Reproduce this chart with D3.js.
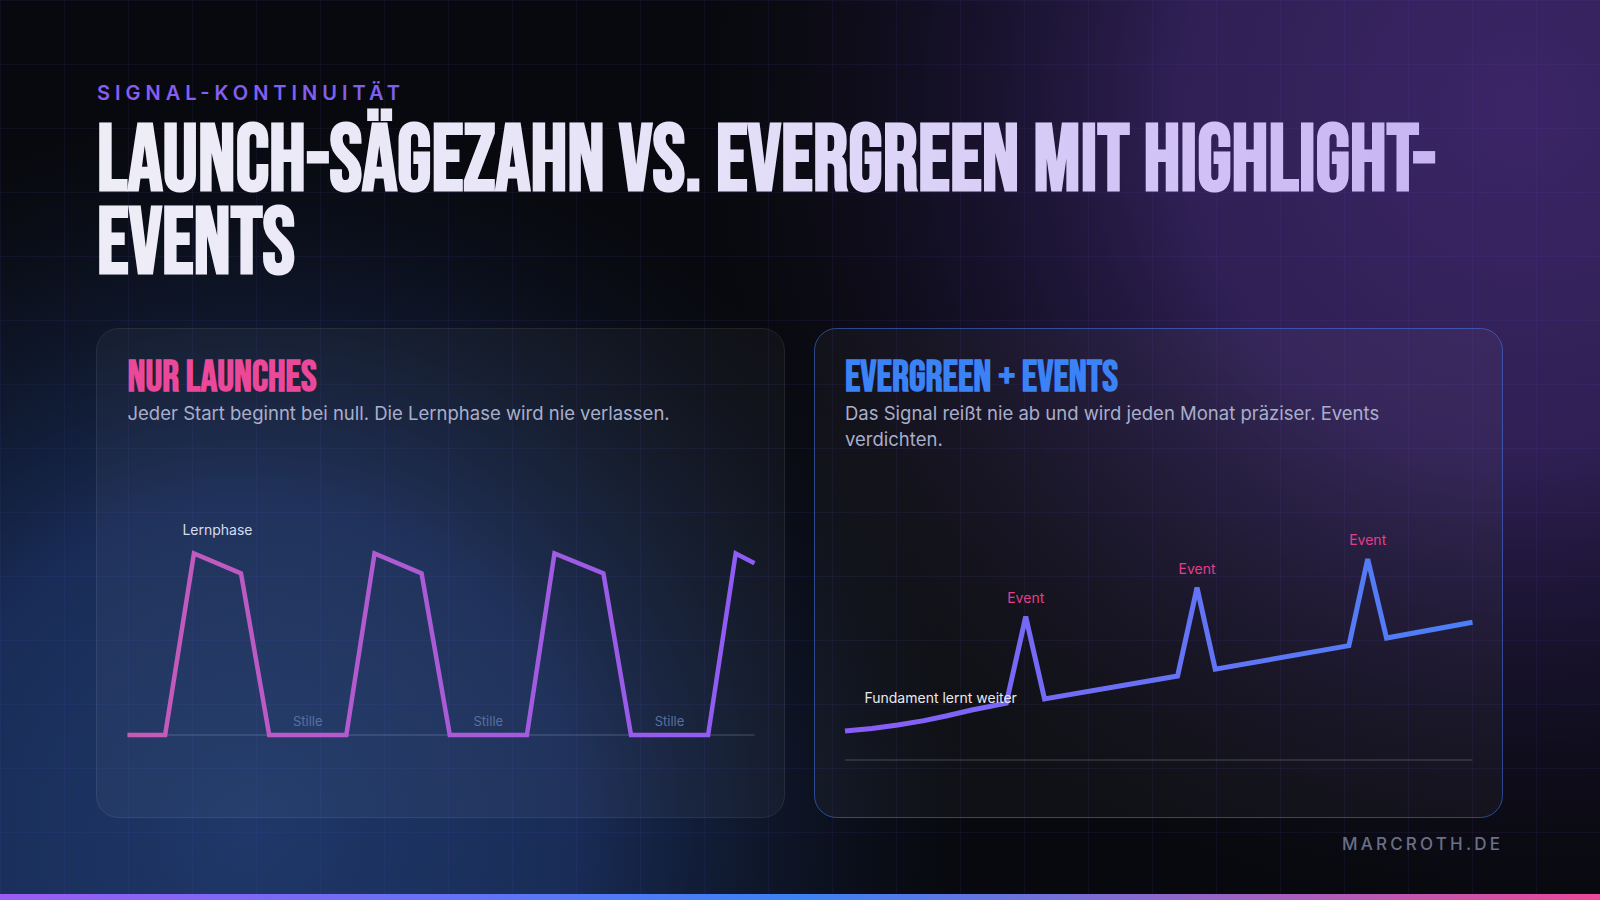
<!DOCTYPE html>
<html><head><meta charset="utf-8">
<script src="https://cdn.jsdelivr.net/npm/d3@7"></script>
<style>html,body{margin:0;padding:0;background:#08090e;overflow:hidden}svg{display:block}</style>
</head><body><svg id="c" width="1600" height="900"></svg>
<script>
// ---------- data ----------
const kicker = "SIGNAL-KONTINUITÄT";
const titleLines = ["LAUNCH-SÄGEZAHN VS. EVERGREEN MIT HIGHLIGHT-", "EVENTS"];
const leftTitle = "NUR LAUNCHES";
const leftSub = "Jeder Start beginnt bei null. Die Lernphase wird nie verlassen.";
const rightTitle = "EVERGREEN + EVENTS";
const rightSub = "Das Signal reißt nie ab und wird jeden Monat präziser. Events verdichten.";
const footer = "MARCROTH.DE";

// Launch sawtooth (t = position 0..100, signal 0..100)
const launchT      = [0, 6.0, 10.6, 18.1, 22.6, 34.9, 39.4, 46.9, 51.4, 63.7, 68.1, 75.9, 80.3, 92.6, 97.0, 100];
const launchSignal = [0, 0,   100,  89,   0,    0,    100,  89,   0,    0,    100,  89,   0,    0,    100,  94.6];
const learnLabel = {t: 14.35, v: 110, text: "Lernphase"};
const stilleT = [28.75, 57.55, 86.45];
const stilleText = "Stille";

// Evergreen + events
const evergreenT      = [0, 4.3, 8.4, 12.6, 16.1, 20.2, 25.7, 28.8, 31.8, 53.0, 56.1, 59.0, 80.3, 83.3, 86.3, 100];
const evergreenSignal = [14.5, 15.7, 17.5, 19.7, 22.0, 25.0, 28.4, 71.7, 30.5, 42.0, 86.2, 45.4, 57.2, 100.5, 61.0, 68.9];
const eventIdx = [7, 10, 13];
const eventText = "Event";
const fundLabel = {t: 3.1, v: 28.5, text: "Fundament lernt weiter"};

// ---------- drawing ----------
const W = 1600, H = 900;
const svg = d3.select("#c");
const defs = svg.append("defs");

function lin(id, x1, x2, stops) {
  const g = defs.append("linearGradient").attr("id", id).attr("gradientUnits", "userSpaceOnUse")
    .attr("x1", x1).attr("x2", x2).attr("y1", 0).attr("y2", 0);
  stops.forEach(s => g.append("stop").attr("offset", s[0]).attr("stop-color", s[1]).attr("stop-opacity", s[2] ?? 1));
}
function rad(id, cx, cy, r, stops) {
  const g = defs.append("radialGradient").attr("id", id).attr("gradientUnits", "userSpaceOnUse")
    .attr("cx", cx).attr("cy", cy).attr("r", r);
  stops.forEach(s => g.append("stop").attr("offset", s[0]).attr("stop-color", s[1]).attr("stop-opacity", s[2]));
}

rad("gBlue", 250, 830, 720, [[0, "#1f3869", 1], [0.45, "#1b3161", 0.88], [0.75, "#152548", 0.4], [1, "#101830", 0]]);
rad("gPurple", 1520, 110, 820, [[0, "#3c2567", 1], [0.42, "#33225c", 0.9], [0.72, "#221841", 0.45], [1, "#120f20", 0]]);
lin("gTitle", 96, 1440, [[0, "#eeedf7"], [0.45, "#e6e2f8"], [0.75, "#d3c6f6"], [1, "#c7b4f3"]]);
lin("gKicker", 97, 400, [[0, "#8b5cf6"], [1, "#7b61f0"]]);
lin("gLeftLine", 127, 755, [[0, "#c75ab7"], [1, "#8d5cf6"]]);
lin("gRightLine", 845, 1473, [[0, "#8b5cf6"], [0.45, "#6a70f6"], [1, "#4a80f5"]]);
lin("gBar", 0, 1600, [[0, "#9b5cf6"], [0.5, "#3b82f6"], [1, "#ec4899"]]);

svg.append("rect").attr("width", W).attr("height", H).attr("fill", "#08090e");
svg.append("rect").attr("width", W).attr("height", H).attr("fill", "url(#gBlue)");
svg.append("rect").attr("width", W).attr("height", H).attr("fill", "url(#gPurple)");

// grid
const grid = svg.append("g").attr("stroke", "rgba(120,100,230,0.075)").attr("stroke-width", 1);
d3.range(0, W + 1, 64).forEach(x => grid.append("line").attr("x1", x + 0.5).attr("x2", x + 0.5).attr("y1", 0).attr("y2", H));
d3.range(0, H + 1, 64).forEach(y => grid.append("line").attr("y1", y + 0.5).attr("y2", y + 0.5).attr("x1", 0).attr("x2", W));

const condensed = "'Bebas Neue','Liberation Sans Narrow','DejaVu Sans Condensed','Liberation Sans',sans-serif";
const body = "'Inter','Lato','Noto Sans',sans-serif";

// kicker
svg.append("text").attr("x", 97).attr("y", 100).text(kicker)
  .attr("font-family", body).attr("font-weight", 600).attr("font-size", 20)
  .attr("textLength", 303).attr("lengthAdjust", "spacing").attr("fill", "url(#gKicker)");

// title
const titleWidths = [1339, 198];
titleLines.forEach((t, i) => {
  svg.append("text").attr("x", 97).attr("y", 190 + i * 83).text(t)
    .attr("font-family", condensed).attr("font-weight", 700).attr("font-size", 94)
    .attr("textLength", titleWidths[i]).attr("lengthAdjust", "spacingAndGlyphs")
    .attr("fill", "url(#gTitle)");
});

// panels
const panels = [
  {x: 96.5, stroke: "rgba(255,255,255,0.09)", fill: "rgba(255,255,255,0.035)"},
  {x: 814.5, stroke: "rgba(70,120,240,0.55)", fill: "rgba(255,255,255,0.035)"}
];
panels.forEach(p => svg.append("rect").attr("x", p.x).attr("y", 328.5).attr("width", 688).attr("height", 489)
  .attr("rx", 22).attr("fill", p.fill).attr("stroke", p.stroke).attr("stroke-width", 1));

function panelHead(x, title, tw, color, sub) {
  svg.append("text").attr("x", x).attr("y", 391).text(title)
    .attr("font-family", condensed).attr("font-weight", 700).attr("font-size", 43)
    .attr("textLength", tw).attr("lengthAdjust", "spacingAndGlyphs").attr("fill", color);
  const st = svg.append("text").attr("x", x).attr("y", 420)
    .attr("font-family", body).attr("font-size", 18.5).attr("fill", "#a9aecb");
  const words = sub.split(" ");
  let line = [], ts = st.append("tspan").attr("x", x).attr("dy", 0);
  words.forEach(w => {
    line.push(w); ts.text(line.join(" "));
    if (ts.node().getComputedTextLength() > 610 && line.length > 1) {
      line.pop(); ts.text(line.join(" ")); line = [w];
      ts = st.append("tspan").attr("x", x).attr("dy", 26).text(w);
    }
  });
}
panelHead(127.5, leftTitle, 189, "#ec4899", leftSub);
panelHead(845, rightTitle, 273, "#3b82f6", rightSub);

// left chart
const xL = d3.scaleLinear().domain([0, 100]).range([127.5, 754.5]);
const yL = d3.scaleLinear().domain([0, 100]).range([735, 553.5]);
svg.append("line").attr("x1", xL(0)).attr("x2", xL(100)).attr("y1", yL(0)).attr("y2", yL(0))
  .attr("stroke", "rgba(150,170,210,0.25)").attr("stroke-width", 1.5);
const launchData = launchT.map((t, i) => [t, launchSignal[i]]);
svg.append("path").datum(launchData)
  .attr("d", d3.line().x(d => xL(d[0])).y(d => yL(d[1])))
  .attr("fill", "none").attr("stroke", "url(#gLeftLine)").attr("stroke-width", 4.5).attr("stroke-linejoin", "miter");
svg.append("text").attr("x", xL(learnLabel.t)).attr("y", yL(learnLabel.v)).text(learnLabel.text)
  .attr("text-anchor", "middle").attr("font-family", body).attr("font-size", 14).attr("fill", "#d6dbf0");
stilleT.forEach(t => svg.append("text").attr("x", xL(t)).attr("y", yL(0) - 9).text(stilleText)
  .attr("text-anchor", "middle").attr("font-family", body).attr("font-size", 13).attr("fill", "#58709e"));

// right chart
const xR = d3.scaleLinear().domain([0, 100]).range([845, 1472.5]);
const yR = d3.scaleLinear().domain([0, 100]).range([760, 560]);
svg.append("line").attr("x1", xR(0)).attr("x2", xR(100)).attr("y1", yR(0)).attr("y2", yR(0))
  .attr("stroke", "rgba(200,200,215,0.2)").attr("stroke-width", 1.5);
const evData = evergreenT.map((t, i) => [t, evergreenSignal[i]]);
svg.append("path").datum(evData)
  .attr("d", d3.line().x(d => xR(d[0])).y(d => yR(d[1])))
  .attr("fill", "none").attr("stroke", "url(#gRightLine)").attr("stroke-width", 5).attr("stroke-linejoin", "miter");
eventIdx.forEach(i => svg.append("text").attr("x", xR(evergreenT[i])).attr("y", yR(evergreenSignal[i]) - 14).text(eventText)
  .attr("text-anchor", "middle").attr("font-family", body).attr("font-size", 14).attr("fill", "#e0408a"));
svg.append("text").attr("x", xR(fundLabel.t)).attr("y", yR(fundLabel.v)).text(fundLabel.text)
  .attr("font-family", body).attr("font-size", 14).attr("fill", "#e8e9f0");

// footer
svg.append("text").attr("x", 1500).attr("y", 850).text(footer).attr("text-anchor", "end")
  .attr("font-family", body).attr("font-weight", 500).attr("font-size", 17)
  .attr("textLength", 158).attr("lengthAdjust", "spacing").attr("fill", "#6b6f88");

// bottom bar
svg.append("rect").attr("x", 0).attr("y", 894).attr("width", W).attr("height", 6).attr("fill", "url(#gBar)");
</script></body></html>
